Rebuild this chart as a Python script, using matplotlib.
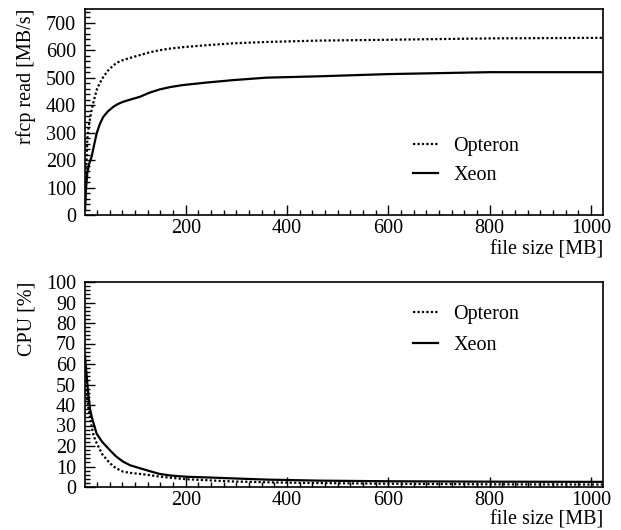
import matplotlib
matplotlib.use("Agg")
import matplotlib.pyplot as plt
from matplotlib.ticker import MultipleLocator

plt.rcParams['font.family'] = ['Liberation Serif', 'DejaVu Serif']
plt.rcParams['mathtext.fontset'] = 'stix'

# file size [MB]
size_rate = [1, 3, 5.5, 9, 14, 19, 24, 30, 37, 46, 57, 66, 76, 90, 109, 128, 148, 170, 194, 240, 293, 359, 464, 600, 800, 1024]
opteron_rate = [20, 140, 273, 330, 382, 420, 455, 480, 502, 525, 545, 556, 564, 572, 582, 592, 600, 606, 611, 618, 625, 630, 635, 638, 643, 645]
xeon_rate = [20, 95, 152, 185, 212, 255, 297, 330, 357, 377, 394, 404, 412, 420, 430, 445, 457, 466, 473, 482, 491, 500, 505, 513, 520, 520]

size_cpu = [1, 3, 5.5, 8, 11, 14, 18, 24, 35, 50, 62, 76, 90, 109, 128, 148, 170, 201, 250, 293, 360, 464, 600, 800, 1024]
opteron_cpu = [52, 48, 42.6, 38, 34, 29.6, 25, 21.4, 16, 11.6, 9.2, 7.5, 6.9, 6.4, 5.8, 5.1, 4.5, 3.8, 3.2, 2.7, 2.3, 1.9, 1.6, 1.3, 1.2]
xeon_cpu = [64, 58, 50.8, 44, 38, 34.5, 31, 26, 22, 18, 15, 12.4, 10.6, 9.2, 7.8, 6.4, 5.6, 5.0, 4.6, 4.2, 3.6, 3.1, 2.8, 2.6, 2.5]

fig = plt.figure(figsize=(6.21, 5.30), dpi=100)
W, H = 621.0, 530.0

def make_ax(left, top, right, bottom):
    return fig.add_axes([left / W, 1 - bottom / H, (right - left) / W, (bottom - top) / H])

ax1 = make_ax(85, 9, 603, 215)
ax2 = make_ax(85, 282, 603, 487)

fs = 14.5
dotted = (0, (1.0, 1.0))
for ax in (ax1, ax2):
    ax.set_xlim(1, 1024)
    ax.xaxis.set_major_locator(MultipleLocator(200))
    ax.xaxis.set_minor_locator(MultipleLocator(25))
    ax.tick_params(axis='both', which='major', direction='in', length=7, width=1,
                   labelsize=fs, top=False, right=False)
    ax.tick_params(axis='y', which='major', pad=6.5)
    ax.tick_params(axis='x', which='major', pad=3)
    ax.tick_params(axis='both', which='minor', direction='in', length=3.5, width=1,
                   top=False, right=False)
    for sp in ax.spines.values():
        sp.set_linewidth(1.2)
    ax.set_xticks([200, 400, 600, 800, 1000])

ax1.set_xlabel('file size [MB]', fontsize=fs, loc='right', labelpad=2)
ax2.set_xlabel('file size [MB]', fontsize=fs, loc='right', labelpad=0)

ax1.plot(size_rate, opteron_rate, color='black', lw=1.6, ls=dotted, label='Opteron')
ax1.plot(size_rate, xeon_rate, color='black', lw=1.6, ls='-', label='Xeon')
ax1.set_ylim(0, 750)
ax1.yaxis.set_major_locator(MultipleLocator(100))
ax1.yaxis.set_minor_locator(MultipleLocator(20))
ax1.set_ylabel('rfcp read [MB/s]', fontsize=fs, loc='top', labelpad=7)
ax1.legend(loc='upper left', bbox_to_anchor=(0.633, 0.378), frameon=False, fontsize=fs,
           handlelength=1.25, handletextpad=0.75, labelspacing=0.5, borderpad=0,
           borderaxespad=0)

ax2.plot(size_cpu, opteron_cpu, color='black', lw=1.6, ls=dotted, label='Opteron')
ax2.plot(size_cpu, xeon_cpu, color='black', lw=1.6, ls='-', label='Xeon')
ax2.set_ylim(0, 100)
ax2.yaxis.set_major_locator(MultipleLocator(10))
ax2.yaxis.set_minor_locator(MultipleLocator(2))
ax2.set_ylabel('CPU [%]', fontsize=fs, loc='top', labelpad=7)
ax2.legend(loc='upper left', bbox_to_anchor=(0.633, 0.887), frameon=False, fontsize=fs,
           handlelength=1.25, handletextpad=0.75, labelspacing=0.6, borderpad=0,
           borderaxespad=0)

fig.savefig('out.png', dpi=100)
